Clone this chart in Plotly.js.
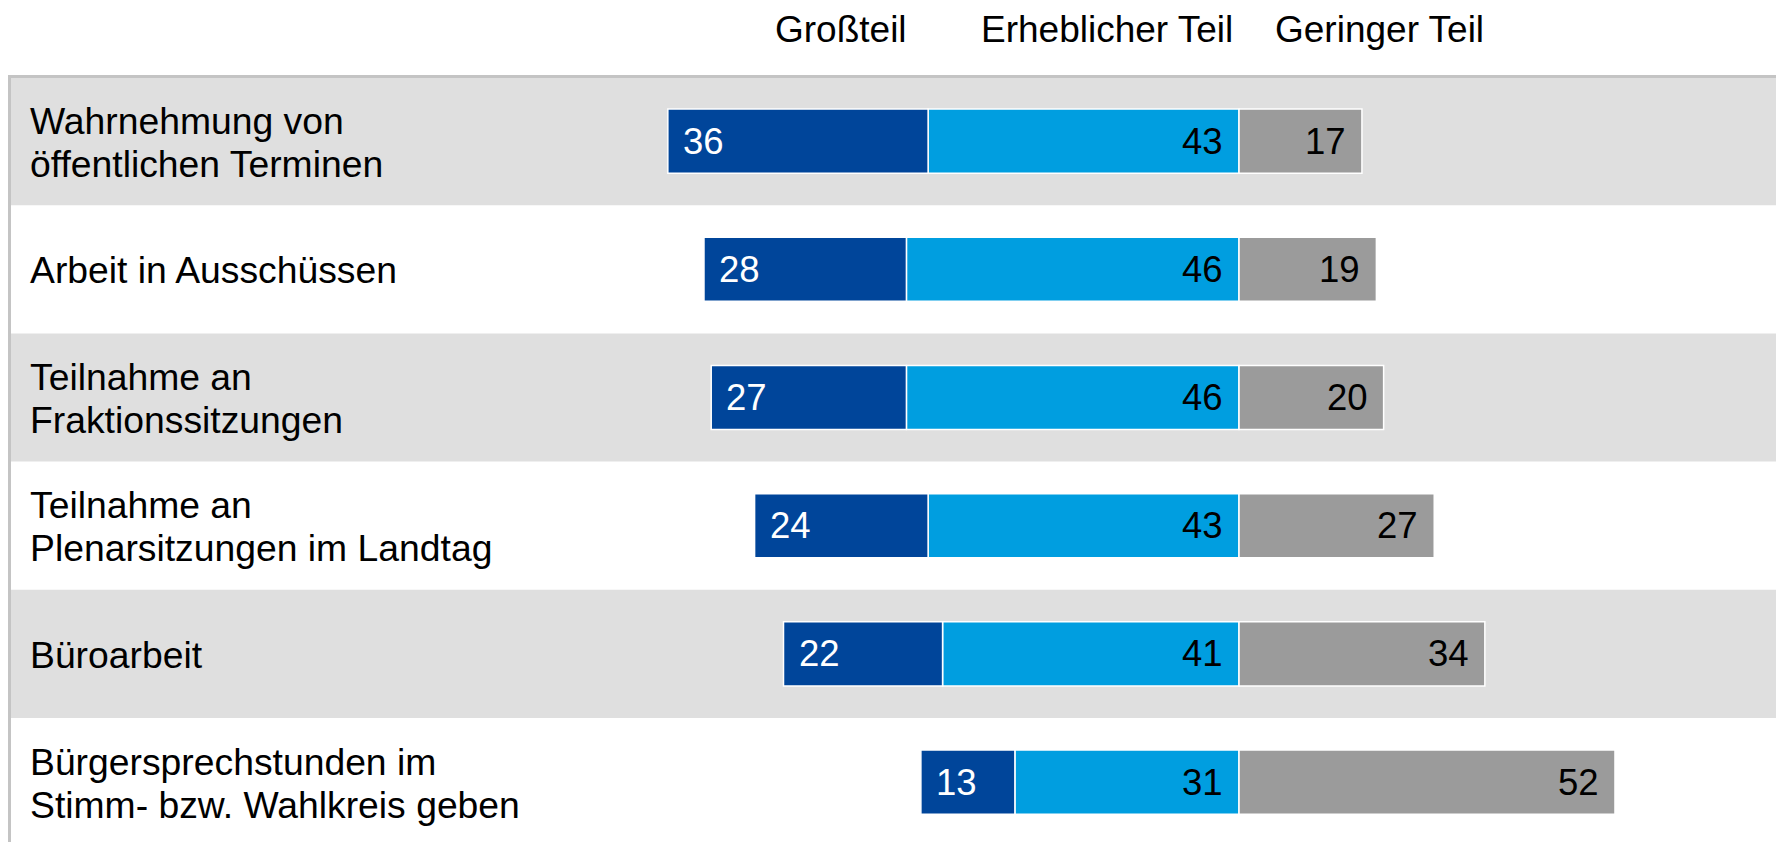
<!DOCTYPE html>
<html>
<head>
<meta charset="utf-8">
<script src="https://cdn.plot.ly/plotly-3.0.1.min.js"></script>
<style>
  html, body { margin: 0; padding: 0; background: #ffffff; }
  #chart { width: 1776px; height: 842px; }
</style>
</head>
<body>
<div id="chart"></div>
<script>
// ---- data ----
const categories = [
  "Wahrnehmung von<br>öffentlichen Terminen",
  "Arbeit in Ausschüssen",
  "Teilnahme an<br>Fraktionssitzungen",
  "Teilnahme an<br>Plenarsitzungen im Landtag",
  "Büroarbeit",
  "Bürgersprechstunden im<br>Stimm- bzw. Wahlkreis geben"
];
const seriesNames = ["Großteil", "Erheblicher Teil", "Geringer Teil"];
const grossteil   = [36, 28, 27, 24, 22, 13];
const erheblich   = [43, 46, 46, 43, 41, 31];
const gering      = [17, 19, 20, 27, 34, 52];

// ---- styles ----
const FONT = '"Liberation Sans", Arial, Helvetica, sans-serif';
const FS = 36.5;
const FS_LABEL = 37.3;
const FS_HEAD = 37;
const C_DARK = '#00459a';
const C_LIGHT = '#009ee0';
const C_GRAY = '#9b9b9b';
const C_BAND = '#dfdfdf';
const C_BORDER = '#c4c4c4';

const idx = categories.map((_, i) => i);

const barCommon = {
  type: 'bar', orientation: 'h', y: idx, width: 0.5,
  hoverinfo: 'none', showlegend: false
};

const traces = [
  Object.assign({}, barCommon, {
    name: seriesNames[1], x: erheblich.map(v => -v),
    marker: { color: C_LIGHT, line: { color: '#ffffff', width: 1.5 } }
  }),
  Object.assign({}, barCommon, {
    name: seriesNames[0], x: grossteil.map(v => -v),
    marker: { color: C_DARK, line: { color: '#ffffff', width: 1.5 } }
  }),
  Object.assign({}, barCommon, {
    name: seriesNames[2], x: gering,
    marker: { color: C_GRAY, line: { color: '#ffffff', width: 1.5 } }
  })
];

// background bands
const shapes = [];
idx.forEach(i => {
  if (i % 2 === 0) {
    shapes.push({
      type: 'rect', layer: 'below', xref: 'paper', yref: 'y',
      x0: 0, x1: 1, y0: i - 0.5, y1: i + 0.5,
      fillcolor: C_BAND, line: { width: 0 }
    });
  }
});
// borders (left and top)
shapes.push({
  type: 'rect', layer: 'above', xref: 'paper', yref: 'paper',
  xsizemode: 'pixel', xanchor: 0, x0: 0, x1: 3, y0: 0, y1: 1,
  fillcolor: C_BORDER, line: { width: 0 }
});
shapes.push({
  type: 'rect', layer: 'above', xref: 'paper', yref: 'paper',
  ysizemode: 'pixel', yanchor: 1, y0: -3, y1: 0, x0: 0, x1: 1,
  fillcolor: C_BORDER, line: { width: 0 }
});

const annotations = [];
// category labels (split into lines with tighter spacing)
const LINE_GAP = 43;
categories.forEach((lab, i) => {
  const lines = lab.split('<br>');
  const n = lines.length;
  lines.forEach((ln, k) => {
    annotations.push({
      xref: 'paper', yref: 'y', x: 0, y: i, xanchor: 'left', yanchor: 'middle',
      xshift: 20, yshift: ((n - 1) / 2 - k) * LINE_GAP - 1,
      text: ln, showarrow: false, align: 'left',
      font: { family: FONT, size: FS_LABEL, color: '#000000' }
    });
  });
});
// value labels
idx.forEach(i => {
  annotations.push({
    xref: 'x', yref: 'y', x: -(grossteil[i] + erheblich[i]), y: i,
    xanchor: 'left', yanchor: 'middle', xshift: 13,
    text: String(grossteil[i]), showarrow: false,
    font: { family: FONT, size: FS, color: '#ffffff' }
  });
  annotations.push({
    xref: 'x', yref: 'y', x: 0, y: i,
    xanchor: 'right', yanchor: 'middle', xshift: -14,
    text: String(erheblich[i]), showarrow: false,
    font: { family: FONT, size: FS, color: '#000000' }
  });
  annotations.push({
    xref: 'x', yref: 'y', x: gering[i], y: i,
    xanchor: 'right', yanchor: 'middle', xshift: -14,
    text: String(gering[i]), showarrow: false,
    font: { family: FONT, size: FS, color: '#000000' }
  });
});
// column headers (legend)
const headerX = [0.4712, 0.6215, 0.7760];
seriesNames.forEach((nm, k) => {
  annotations.push({
    xref: 'paper', yref: 'paper', x: headerX[k], y: 1.0587,
    xanchor: 'center', yanchor: 'middle',
    text: nm, showarrow: false,
    font: { family: FONT, size: FS_HEAD, color: '#000000' }
  });
});

const layout = {
  width: 1776, height: 842,
  margin: { l: 8, r: 0, t: 75, b: 0, pad: 0 },
  paper_bgcolor: '#ffffff', plot_bgcolor: '#ffffff',
  barmode: 'relative',
  bargap: 0.5,
  font: { family: FONT, size: FS, color: '#000000' },
  xaxis: {
    range: [-170.26, 74.27], showgrid: false, zeroline: false,
    showticklabels: false, showline: false, ticks: '', fixedrange: true
  },
  yaxis: {
    range: [5.467, -0.5156], showgrid: false, zeroline: false,
    showticklabels: false, showline: false, ticks: '', fixedrange: true
  },
  shapes: shapes,
  annotations: annotations,
  showlegend: false
};

Plotly.newPlot('chart', traces, layout, { displayModeBar: false, staticPlot: true });
</script>
</body>
</html>
